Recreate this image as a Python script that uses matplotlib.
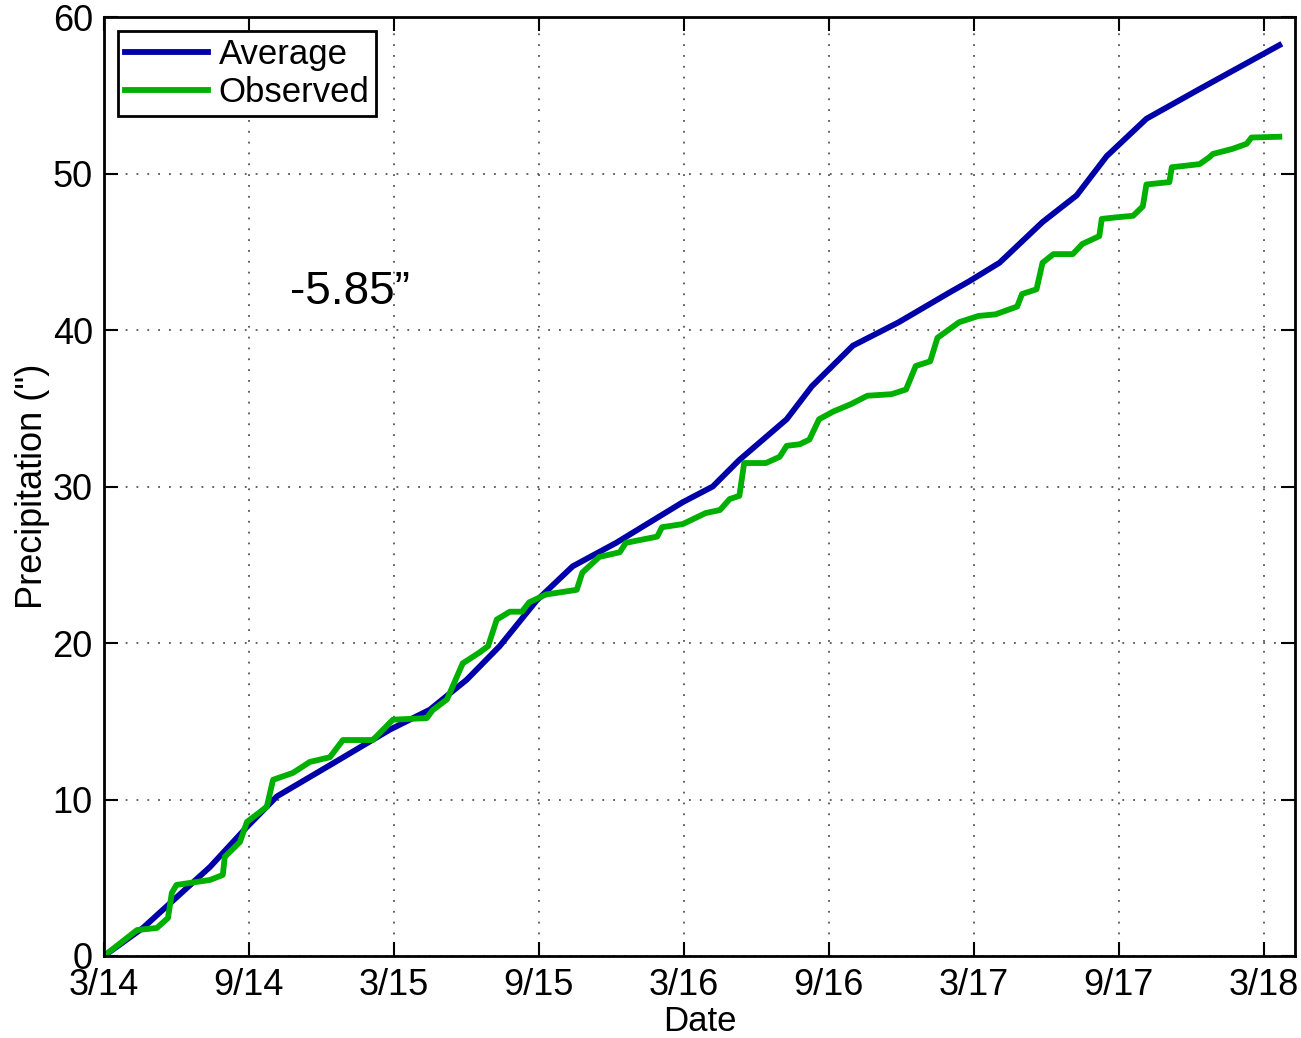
import matplotlib.pyplot as plt

plt.rcParams["font.family"] = ["Liberation Sans", "DejaVu Sans"]

# months since March 2014
avg_month = [0, 1.61, 4.39, 5.92, 7.16, 9.47, 11.83, 13.49, 15.02, 16.38, 17.9,
             19.4, 21.2, 23.96, 25.2, 26.3, 28.26, 29.3, 31.0, 32.9, 35.0,
             35.8, 37.07, 38.85, 40.26, 41.5, 43.15, 45.35, 48.65]
avg_precip = [0, 1.79, 5.69, 8.25, 10.2, 12.3, 14.46, 15.74, 17.66, 19.8, 22.7,
              24.9, 26.4, 29.0, 30.0, 31.7, 34.3, 36.4, 39.0, 40.5, 42.4,
              43.1, 44.3, 46.9, 48.6, 51.1, 53.5, 55.4, 58.2]

obs_month = [0, 1.37, 2.19, 2.65, 2.81, 3.0, 4.39, 4.92, 5.0, 5.63, 5.92, 6.74,
             7.0, 7.82, 8.52, 9.35, 9.89, 11.13, 11.96, 13.36, 13.6, 14.2, 14.85,
             15.55, 15.9, 16.26, 16.8, 17.3, 17.6, 18.3, 19.57, 19.8, 20.5,
             21.35, 21.6, 22.9, 23.1, 23.96, 24.9, 25.5, 25.9, 26.3, 26.5, 27.4,
             27.97, 28.26, 28.8, 29.2, 29.6, 30.2, 30.9, 31.6, 32.6, 33.2, 33.6,
             34.2, 34.5, 35.4, 36.2, 36.9, 37.8, 38.0, 38.6, 38.85, 39.3, 40.1,
             40.5, 41.2, 41.3, 41.9, 42.6, 43.0, 43.15, 44.1, 44.2, 45.35, 45.76,
             45.9, 46.7, 47.3, 47.5, 48.65]
obs_precip = [0, 1.66, 1.79, 2.43, 4.03, 4.54, 4.86, 5.18, 6.33, 7.29, 8.57, 9.53,
              11.26, 11.7, 12.4, 12.7, 13.8, 13.8, 15.1, 15.2, 15.7, 16.4, 18.7,
              19.4, 19.8, 21.5, 22.0, 22.0, 22.6, 23.1, 23.4, 24.5, 25.5,
              25.8, 26.4, 26.8, 27.4, 27.6, 28.3, 28.5, 29.2, 29.4, 31.5, 31.5,
              31.9, 32.6, 32.7, 33.0, 34.3, 34.8, 35.25, 35.8, 35.9, 36.2, 37.7,
              38.0, 39.5, 40.5, 40.9, 41.0, 41.5, 42.3, 42.6, 44.3, 44.85, 44.85,
              45.5, 46.0, 47.1, 47.2, 47.3, 47.9, 49.3, 49.45, 50.4, 50.6, 51.05,
              51.25, 51.57, 51.9, 52.3, 52.35]

tick_months = [0, 6, 12, 18, 24, 30, 36, 42, 48]
tick_labels = ["3/14", "9/14", "3/15", "9/15", "3/16", "9/16", "3/17", "9/17", "3/18"]

fig = plt.figure(figsize=(13.01, 10.38), dpi=100)
ax = fig.add_axes([0.0799, 0.079, 0.9155, 0.9046])

ax.plot(avg_month, avg_precip, color="#0000a8", lw=4.2, label="Average",
        solid_joinstyle="round")
ax.plot(obs_month, obs_precip, color="#00b000", lw=4.2, label="Observed",
        solid_joinstyle="round")

ax.set_xlim(0, 49.3)
ax.set_ylim(0, 60)
ax.set_xticks(tick_months)
ax.set_xticklabels(tick_labels)
ax.set_yticks(range(0, 61, 10))

ax.grid(True, color="#555555", linestyle=(0, (1, 5)), linewidth=1.3)
ax.tick_params(direction="in", length=10, width=1.5, top=True, right=True,
               labelsize=26)
ax.tick_params(axis="x", pad=9)
ax.tick_params(axis="y", pad=8)
for s in ax.spines.values():
    s.set_linewidth(2)

ax.set_xlabel("Date", fontsize=25, labelpad=1)
ax.set_ylabel('Precipitation (")', fontsize=26, labelpad=2)

ax.text(7.7, 42.4, "-5.85\u201d", fontsize=33, ha="left", va="center")

leg = ax.legend(loc="upper left", fontsize=25, handlelength=2.4,
                fancybox=False, edgecolor="black", framealpha=1,
                borderpad=0.2, labelspacing=0.15, handletextpad=0.3,
                borderaxespad=0.4)
leg.get_frame().set_linewidth(2)

plt.savefig("out.png", dpi=100)
